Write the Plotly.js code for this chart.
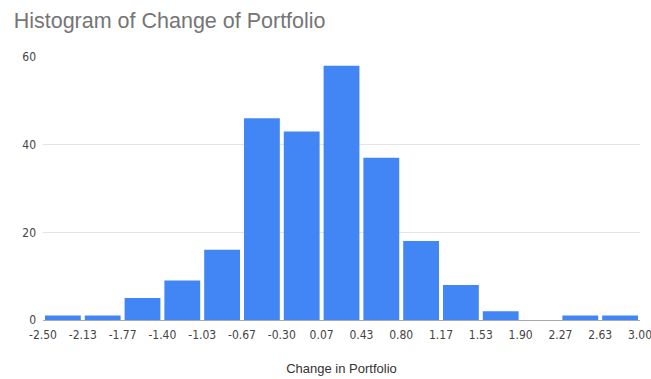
<!DOCTYPE html>
<html>
<head>
<meta charset="utf-8">
<script src="https://cdn.plot.ly/plotly-3.0.1.min.js"></script>
<style>
  html, body { margin: 0; padding: 0; background: #fff; }
  #chart { width: 651px; height: 379px; }
</style>
</head>
<body>
<div id="chart"></div>
<script>
// Bin edges of the histogram and their printed labels
const binEdges = [-2.5, -2.1333, -1.7667, -1.4, -1.0333, -0.6667, -0.3, 0.0667,
                  0.4333, 0.8, 1.1667, 1.5333, 1.9, 2.2667, 2.6333, 3.0];
const edgeLabels = ['-2.50', '-2.13', '-1.77', '-1.40', '-1.03', '-0.67', '-0.30', '0.07',
                    '0.43', '0.80', '1.17', '1.53', '1.90', '2.27', '2.63', '3.00'];
// Count of observations in each bin
const binCounts = [1, 1, 5, 9, 16, 46, 43, 58, 37, 18, 8, 2, 0, 1, 1];
const yTicks = [0, 20, 40, 60];

const binCenters = binCounts.map((_, i) => (binEdges[i] + binEdges[i + 1]) / 2);
const binWidths = binCounts.map((_, i) => binEdges[i + 1] - binEdges[i]);

const tickFont = {
  family: '"Liberation Sans Narrow", "Arial Narrow", "DejaVu Sans Condensed", Arial, sans-serif',
  size: 12,
  color: '#444'
};

const trace = {
  type: 'bar',
  x: binCenters,
  y: binCounts,
  width: binWidths.map(w => w * 0.9),
  marker: { color: '#4285f4' },
  hoverinfo: 'x+y'
};

const layout = {
  width: 651,
  height: 379,
  margin: { l: 43, r: 11, t: 57, b: 59 },
  paper_bgcolor: '#fff',
  plot_bgcolor: '#fff',
  font: { family: 'Arial, "Liberation Sans", sans-serif', size: 11, color: '#444' },
  title: {
    text: 'Histogram of Change of Portfolio',
    x: 0.021, xanchor: 'left',
    y: 0.945, yanchor: 'middle',
    font: { family: 'Arial, "Liberation Sans", sans-serif', size: 21.5, color: '#757575' }
  },
  showlegend: false,
  xaxis: {
    range: [binEdges[0], binEdges[binEdges.length - 1]],
    tickvals: binEdges,
    ticktext: edgeLabels,
    showgrid: false,
    zeroline: false,
    showline: false,
    ticks: '',
    ticklabelstandoff: 6,
    ticklabeloverflow: 'allow',
    tickfont: tickFont,
    title: {
      text: 'Change in Portfolio',
      font: { family: 'Arial, "Liberation Sans", sans-serif', size: 13, color: '#333' },
      standoff: 22
    }
  },
  yaxis: {
    range: [0, 60],
    tickvals: yTicks,
    showgrid: true,
    gridcolor: '#e3e3e3',
    zeroline: true,
    zerolinecolor: '#aaaaaa',
    zerolinewidth: 1,
    ticks: '',
    ticklabelstandoff: 6,
    tickfont: tickFont
  }
};

Plotly.newPlot('chart', [trace], layout, { displayModeBar: false, staticPlot: true });
</script>
</body>
</html>
